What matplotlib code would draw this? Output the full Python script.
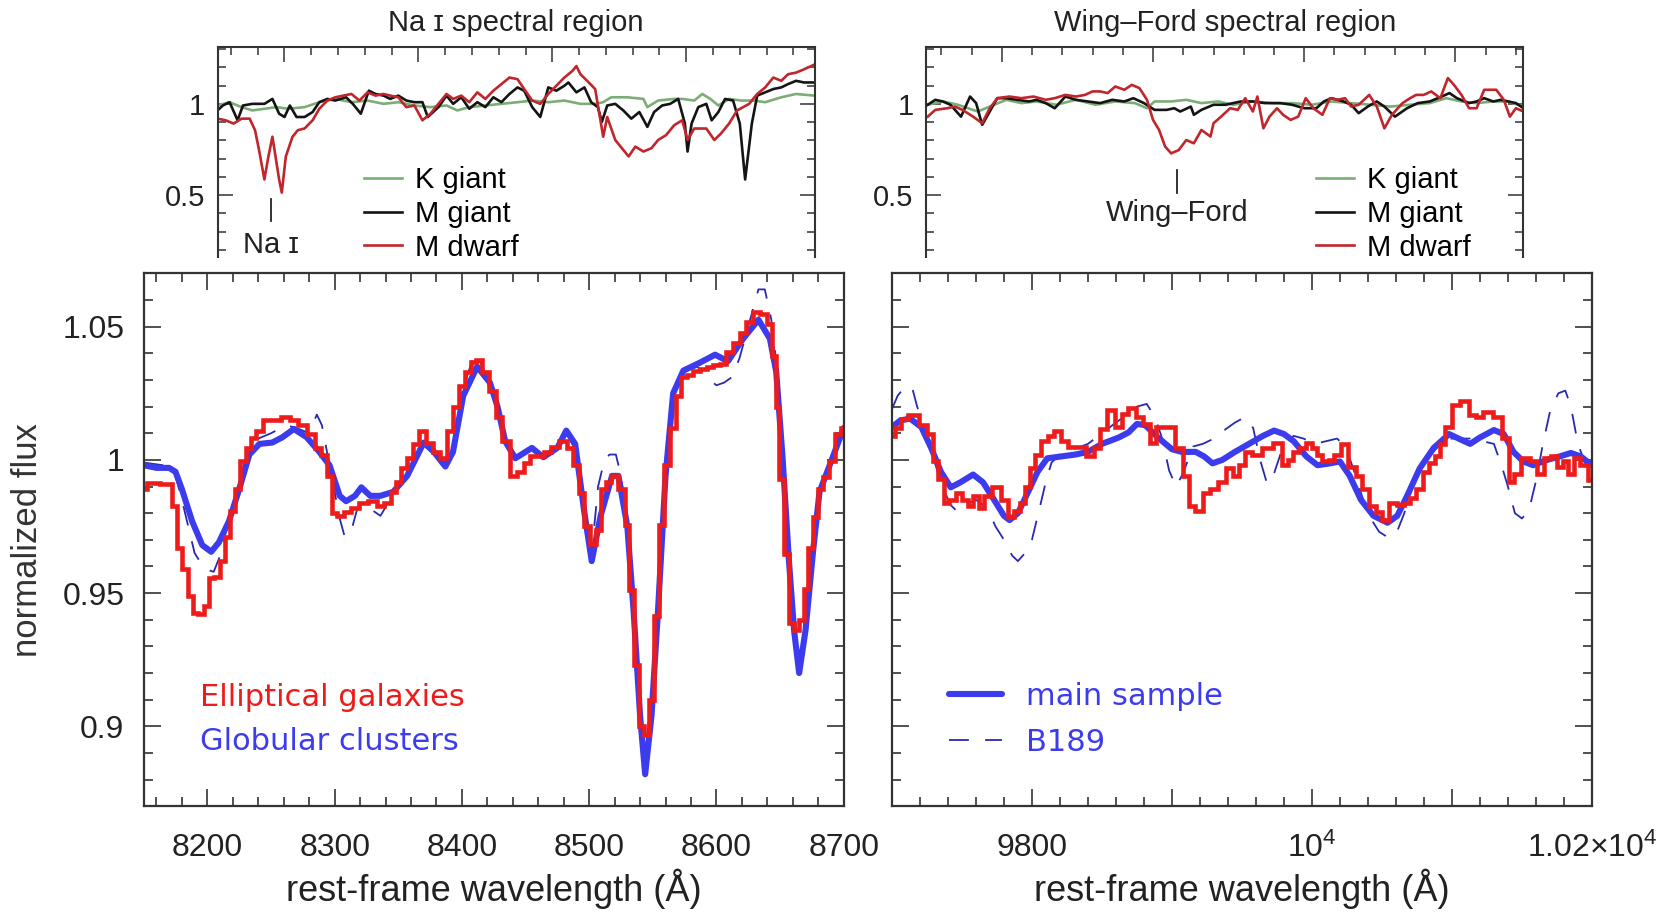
import matplotlib
matplotlib.use("Agg")
import matplotlib.pyplot as plt
from matplotlib.ticker import MultipleLocator, FixedLocator, FixedFormatter

plt.rcParams['font.family'] = ['Liberation Sans', 'DejaVu Sans']
plt.rcParams['mathtext.fontset'] = 'custom'
plt.rcParams['mathtext.rm'] = 'Liberation Sans'

# ---------------- Na I / Ca triplet region (8150-8700 A) ----------------
# (wavelength, normalized flux)
na_gc = [(8150, 0.998), (8160, 0.997), (8170, 0.997), (8175, 0.9955), (8180, 0.989), (8188, 0.977),
         (8196, 0.968), (8203, 0.9655), (8209, 0.969), (8217, 0.977), (8225, 0.989), (8233, 1.002),
         (8241, 1.006), (8251, 1.0065), (8259, 1.0085), (8268, 1.0116), (8278, 1.0085), (8288, 1.003),
         (8296, 0.998), (8304, 0.9865), (8309, 0.9845), (8316, 0.9865), (8321, 0.9897), (8328, 0.9865),
         (8336, 0.9865), (8346, 0.988), (8357, 0.994), (8370, 1.0065), (8378, 1.003), (8387, 0.9975),
         (8393, 1.003), (8401, 1.024), (8412, 1.035), (8422, 1.029), (8428, 1.020), (8434, 1.007),
         (8442, 1.0006), (8455, 1.0045), (8464, 1.001), (8475, 1.0045), (8482, 1.011), (8489, 1.006),
         (8496, 0.981), (8502, 0.962), (8509, 0.979), (8518, 0.994), (8523, 0.994), (8530, 0.975),
         (8535, 0.9426), (8540, 0.904), (8544, 0.882), (8549, 0.904), (8554, 0.9426), (8560, 0.994),
         (8566, 1.025), (8574, 1.0335), (8587, 1.0365), (8599, 1.0395), (8609, 1.037), (8621, 1.0455),
         (8633, 1.0526), (8642, 1.0455), (8647, 1.033), (8652, 1.0006), (8657, 0.962), (8661, 0.936),
         (8665, 0.920), (8670, 0.936), (8676, 0.966), (8681, 0.988), (8689, 0.998), (8700, 1.012)]

na_ell = [(8150, 0.989), (8155, 0.9915), (8160, 0.9915), (8165, 0.991), (8170, 0.991), (8175, 0.9826),
          (8178, 0.967), (8182, 0.959), (8187, 0.949), (8191, 0.9426), (8195, 0.942), (8199, 0.945),
          (8203, 0.9555), (8208, 0.956), (8212, 0.962), (8216, 0.971), (8220, 0.981), (8224, 0.989),
          (8228, 0.9994), (8232, 1.0045), (8236, 1.0084), (8241, 1.011), (8247, 1.0148), (8254, 1.0148),
          (8262, 1.016), (8268, 1.0148), (8275, 1.013), (8282, 1.0097), (8287, 1.0045), (8292, 1.002),
          (8296, 0.994), (8300, 0.980), (8304, 0.979), (8310, 0.9806), (8316, 0.982), (8322, 0.984),
          (8330, 0.9845), (8336, 0.9826), (8342, 0.984), (8346, 0.988), (8350, 0.9916), (8354, 0.9968),
          (8359, 1.0006), (8364, 1.006), (8368, 1.011), (8375, 1.0065), (8380, 1.003), (8385, 1.0006),
          (8391, 1.011), (8395, 1.020), (8400, 1.0277), (8405, 1.033), (8409, 1.0368), (8413, 1.0374),
          (8418, 1.033), (8424, 1.026), (8429, 1.016), (8434, 1.007), (8441, 0.994), (8446, 0.9955),
          (8451, 0.9987), (8456, 1.0013), (8462, 1.0013), (8467, 1.003), (8473, 1.005), (8480, 1.007),
          (8485, 1.0045), (8490, 0.998), (8494, 0.9877), (8498, 0.975), (8503, 0.9684), (8507, 0.9735),
          (8511, 0.989), (8515, 0.9916), (8520, 0.994), (8526, 0.989), (8530, 0.9755), (8533, 0.951),
          (8537, 0.923), (8541, 0.900), (8545, 0.8968), (8549, 0.910), (8553, 0.9413), (8557, 0.9755),
          (8561, 0.998), (8566, 1.012), (8570, 1.024), (8574, 1.031), (8579, 1.032), (8584, 1.0335),
          (8590, 1.034), (8595, 1.0348), (8600, 1.0355), (8605, 1.036), (8610, 1.0406), (8616, 1.044),
          (8621, 1.0477), (8626, 1.0516), (8631, 1.0555), (8637, 1.0548), (8642, 1.051), (8646, 1.039),
          (8648, 1.020), (8651, 0.993), (8655, 0.9645), (8659, 0.9387), (8663, 0.936), (8667, 0.940),
          (8670, 0.9516), (8674, 0.967), (8678, 0.9787), (8682, 0.989), (8686, 0.9935), (8691, 0.9994),
          (8695, 1.0097), (8700, 1.012)]

na_b189 = [(8150, 0.999), (8165, 0.998), (8170, 0.999), (8175, 0.994), (8180, 0.985), (8185, 0.975),
           (8190, 0.965), (8198, 0.959), (8205, 0.958), (8210, 0.964), (8215, 0.974), (8222, 0.987),
           (8230, 1.000), (8240, 1.008), (8250, 1.010), (8262, 1.013), (8270, 1.012), (8280, 1.010),
           (8286, 1.017), (8290, 1.013), (8294, 1.003), (8298, 0.993), (8304, 0.978), (8308, 0.971),
           (8314, 0.975), (8318, 0.982), (8325, 0.9826), (8336, 0.979), (8346, 0.987), (8357, 0.994),
           (8370, 1.006), (8378, 1.003), (8387, 0.997), (8393, 1.004), (8401, 1.027), (8410, 1.040),
           (8415, 1.036), (8422, 1.029), (8428, 1.020), (8434, 1.007), (8442, 1.000), (8455, 1.004),
           (8464, 1.001), (8475, 1.004), (8482, 1.010), (8489, 1.004), (8496, 0.980), (8502, 0.965),
           (8507, 0.990), (8512, 1.000), (8516, 1.002), (8521, 1.002), (8525, 0.994), (8530, 0.975),
           (8535, 0.942), (8540, 0.905), (8544, 0.885), (8549, 0.905), (8554, 0.942), (8560, 0.994),
           (8566, 1.025), (8574, 1.033), (8585, 1.035), (8592, 1.031), (8600, 1.028), (8606, 1.029),
           (8612, 1.031), (8618, 1.038), (8625, 1.050), (8633, 1.064), (8638, 1.064), (8643, 1.053),
           (8648, 1.033), (8652, 1.000), (8657, 0.962), (8661, 0.936), (8665, 0.921), (8670, 0.936),
           (8676, 0.966), (8681, 0.988), (8689, 0.998), (8700, 1.012)]

# ---------------- Wing-Ford region (9700-10200 A) ----------------
wf_gc = [(9700, 1.0123), (9706, 1.0148), (9713, 1.0155), (9721, 1.0123), (9728, 1.0045), (9735, 0.9955),
         (9742, 0.9897), (9749, 0.9916), (9758, 0.9945), (9765, 0.9916), (9773, 0.985), (9780, 0.979),
         (9784, 0.9774), (9790, 0.980), (9797, 0.9877), (9804, 0.9955), (9811, 1.0006), (9821, 1.0013),
         (9831, 1.002), (9840, 1.003), (9850, 1.006), (9862, 1.0084), (9869, 1.0103), (9875, 1.0135),
         (9881, 1.013), (9890, 1.0084), (9900, 1.004), (9907, 1.003), (9917, 1.003), (9923, 1.0013),
         (9929, 0.9987), (9936, 1.000), (9945, 1.003), (9955, 1.006), (9965, 1.009), (9973, 1.011),
         (9980, 1.0097), (9987, 1.007), (9996, 1.0013), (10004, 0.998), (10013, 0.9987), (10020, 0.9994),
         (10027, 0.994), (10035, 0.985), (10044, 0.979), (10054, 0.9764), (10061, 0.979), (10068, 0.9865),
         (10077, 0.9968), (10087, 1.0045), (10098, 1.0097), (10106, 1.0077), (10113, 1.006), (10120, 1.0084),
         (10130, 1.0112), (10137, 1.0097), (10144, 1.003), (10151, 0.9994), (10158, 0.998), (10168, 1.000),
         (10177, 1.0013), (10185, 1.0026), (10192, 1.0013), (10200, 0.998)]

wf_ell = [(9700, 1.009), (9705, 1.012), (9708, 1.0155), (9715, 1.0168), (9723, 1.013), (9727, 1.0097),
          (9731, 0.9994), (9735, 0.993), (9739, 0.984), (9743, 0.985), (9748, 0.9877), (9752, 0.985),
          (9756, 0.9826), (9760, 0.9865), (9764, 0.982), (9768, 0.9865), (9775, 0.9897), (9781, 0.985),
          (9785, 0.9787), (9790, 0.981), (9793, 0.984), (9797, 0.990), (9800, 0.9968), (9804, 1.002),
          (9809, 1.007), (9814, 1.009), (9818, 1.011), (9823, 1.007), (9828, 1.005), (9835, 1.005),
          (9842, 1.0013), (9846, 1.0045), (9851, 1.0116), (9856, 1.0187), (9862, 1.0123), (9866, 1.0174),
          (9871, 1.0194), (9877, 1.016), (9882, 1.0135), (9886, 1.0065), (9891, 1.0123), (9899, 1.0123),
          (9906, 1.0045), (9910, 0.994), (9914, 0.9826), (9919, 0.981), (9925, 0.9877), (9930, 0.989),
          (9936, 0.9916), (9941, 0.9968), (9946, 0.994), (9950, 0.998), (9955, 1.003), (9960, 1.002),
          (9968, 1.0045), (9976, 1.0065), (9981, 0.998), (9985, 1.000), (9988, 1.003), (9993, 1.0045),
          (9998, 1.0065), (10002, 1.0045), (10005, 1.002), (10010, 0.9994), (10014, 1.000), (10018, 1.002),
          (10023, 1.006), (10029, 0.9974), (10034, 0.994), (10038, 0.989), (10044, 0.9826), (10048, 0.9806),
          (10052, 0.9774), (10058, 0.984), (10063, 0.983), (10068, 0.984), (10072, 0.9858), (10077, 0.989),
          (10081, 0.9955), (10086, 0.9987), (10090, 1.0013), (10093, 1.006), (10097, 1.0123), (10103, 1.0206),
          (10109, 1.022), (10115, 1.0168), (10119, 1.016), (10125, 1.018), (10133, 1.016), (10139, 1.0084),
          (10142, 0.9916), (10146, 0.9948), (10152, 1.0006), (10159, 0.9994), (10163, 0.9948), (10168, 1.0006),
          (10173, 1.0013), (10177, 0.9974), (10181, 0.9994), (10185, 0.9948), (10189, 1.0006), (10194, 0.998),
          (10200, 0.9923)]

wf_b189 = [(9700, 1.019), (9704, 1.024), (9710, 1.028), (9715, 1.026), (9718, 1.020), (9722, 1.014),
           (9728, 1.004), (9735, 0.991), (9742, 0.983), (9746, 0.981), (9752, 0.983), (9760, 0.985),
           (9768, 0.982), (9774, 0.975), (9780, 0.970), (9786, 0.964), (9790, 0.962), (9795, 0.965),
           (9800, 0.970), (9806, 0.983), (9810, 0.992), (9814, 0.999), (9820, 1.002), (9830, 1.004),
           (9840, 1.006), (9850, 1.010), (9860, 1.014), (9868, 1.017), (9875, 1.020), (9882, 1.021),
           (9888, 1.016), (9893, 1.008), (9898, 0.996), (9903, 0.990), (9908, 0.995), (9915, 1.005),
           (9922, 1.006), (9930, 1.008), (9937, 1.011), (9945, 1.014), (9952, 1.016), (9958, 1.012),
           (9963, 1.000), (9968, 0.991), (9973, 0.995), (9980, 1.006), (9987, 1.009), (9994, 1.008),
           (10002, 1.006), (10010, 1.007), (10018, 1.008), (10024, 1.005), (10030, 0.996), (10036, 0.986),
           (10042, 0.978), (10048, 0.973), (10054, 0.971), (10060, 0.972), (10066, 0.980), (10072, 0.990),
           (10080, 0.999), (10090, 1.005), (10098, 1.008), (10106, 1.008), (10113, 1.008), (10122, 1.007),
           (10130, 1.006), (10136, 0.997), (10140, 0.990), (10145, 0.980), (10150, 0.978), (10155, 0.981),
           (10160, 0.992), (10165, 1.006), (10170, 1.018), (10176, 1.025), (10181, 1.026), (10185, 1.020),
           (10190, 1.006), (10195, 0.999), (10200, 0.996)]

# ---------------- stellar template spectra for the small panels ----------------
na_kgiant = [(8150, 0.991), (8159, 1.009), (8168, 0.982), (8176, 0.964), (8185, 0.973), (8194, 0.982),
             (8203, 0.973), (8215, 0.982), (8226, 1.009), (8238, 1.027), (8250, 1.009), (8262, 1.018),
             (8274, 1.0), (8285, 1.009), (8297, 0.991), (8309, 0.982), (8321, 0.991), (8329, 0.964),
             (8338, 0.982), (8350, 0.991), (8362, 1.0), (8374, 1.009), (8385, 1.018), (8397, 1.009),
             (8409, 1.018), (8421, 1.0), (8432, 1.0), (8438, 1.009), (8444, 1.036), (8456, 1.036),
             (8468, 1.027), (8471, 0.982), (8479, 1.018), (8491, 1.027), (8497, 1.027), (8506, 1.018),
             (8512, 1.054), (8518, 1.027), (8524, 0.991), (8532, 1.027), (8541, 1.018), (8550, 1.018),
             (8559, 1.009), (8571, 1.036), (8582, 1.054), (8596, 1.045)]
na_mgiant = [(8150, 0.964), (8154, 0.991), (8159, 1.009), (8165, 0.910), (8169, 0.991), (8176, 1.0),
             (8185, 1.0), (8191, 1.027), (8196, 0.946), (8200, 0.928), (8204, 0.991), (8209, 0.928),
             (8215, 0.928), (8221, 0.955), (8226, 1.009), (8232, 1.027), (8238, 1.018), (8246, 1.036),
             (8251, 1.0), (8257, 0.946), (8263, 1.072), (8268, 1.054), (8274, 1.045), (8279, 1.027),
             (8285, 1.045), (8291, 1.018), (8297, 1.009), (8303, 1.009), (8307, 0.928), (8315, 0.982),
             (8321, 1.045), (8326, 1.0), (8332, 1.036), (8338, 0.973), (8344, 1.009), (8350, 0.982),
             (8356, 1.036), (8362, 1.009), (8368, 1.054), (8374, 1.090), (8379, 1.072), (8385, 0.982),
             (8391, 0.928), (8397, 1.090), (8403, 1.072), (8409, 1.099), (8412, 1.117), (8418, 1.063),
             (8424, 1.090), (8429, 1.009), (8434, 0.982), (8437, 0.901), (8441, 0.991), (8447, 1.0),
             (8453, 0.964), (8459, 0.919), (8465, 0.955), (8471, 0.874), (8476, 0.955), (8482, 0.991),
             (8488, 1.0), (8494, 1.027), (8499, 0.892), (8501, 0.739), (8504, 0.892), (8509, 0.982),
             (8515, 1.0), (8519, 0.910), (8524, 0.955), (8529, 1.027), (8535, 1.018), (8540, 0.892),
             (8544, 0.586), (8549, 0.892), (8553, 1.045), (8559, 1.063), (8565, 1.081), (8571, 1.090),
             (8576, 1.108), (8582, 1.126), (8588, 1.117), (8596, 1.117)]
na_mdwarf = [(8150, 0.919), (8156, 0.910), (8162, 0.892), (8168, 0.919), (8174, 0.919), (8178, 0.856),
             (8181, 0.748), (8185, 0.586), (8188, 0.712), (8191, 0.820), (8196, 0.586), (8198, 0.514),
             (8201, 0.712), (8206, 0.820), (8210, 0.856), (8215, 0.865), (8221, 0.910), (8226, 0.973),
             (8232, 1.018), (8238, 1.036), (8244, 1.045), (8250, 1.054), (8256, 1.018), (8262, 1.063),
             (8268, 1.045), (8274, 1.054), (8279, 1.045), (8285, 1.036), (8291, 0.982), (8297, 0.991),
             (8303, 0.910), (8309, 0.946), (8315, 1.0), (8321, 1.054), (8326, 1.027), (8332, 1.045),
             (8338, 1.009), (8344, 1.063), (8350, 1.027), (8356, 1.072), (8362, 1.108), (8368, 1.144),
             (8374, 1.135), (8379, 1.081), (8385, 1.018), (8391, 1.0), (8397, 1.054), (8403, 1.099),
             (8409, 1.144), (8415, 1.180), (8418, 1.207), (8421, 1.162), (8426, 1.126), (8432, 1.081),
             (8438, 0.820), (8441, 0.928), (8447, 0.802), (8453, 0.748), (8457, 0.712), (8462, 0.766),
             (8468, 0.739), (8474, 0.757), (8479, 0.802), (8485, 0.829), (8491, 0.883), (8497, 0.910),
             (8501, 0.802), (8506, 0.865), (8515, 0.865), (8521, 0.802), (8526, 0.838), (8532, 0.892),
             (8538, 0.964), (8547, 1.0), (8553, 1.054), (8559, 1.090), (8565, 1.144), (8571, 1.126),
             (8576, 1.162), (8582, 1.171), (8588, 1.189), (8596, 1.216)]

wf_kgiant = [(9751, 0.995), (9761, 1.013), (9771, 0.995), (9784, 0.958), (9792, 0.985), (9803, 1.022),
             (9813, 1.004), (9823, 1.013), (9836, 0.995), (9849, 1.022), (9862, 0.995), (9875, 1.013),
             (9888, 1.004), (9896, 0.976), (9901, 1.013), (9912, 1.013), (9922, 1.022), (9932, 1.004),
             (9943, 1.013), (9953, 0.995), (9966, 1.013), (9979, 1.004), (9992, 1.004), (10005, 0.995),
             (10018, 1.013), (10031, 1.004), (10044, 0.995), (10057, 0.985), (10070, 0.995), (10083, 1.004),
             (10094, 1.031), (10104, 1.013), (10114, 1.004), (10125, 1.013), (10135, 1.013), (10145, 0.985)]
wf_mgiant = [(9751, 0.995), (9756, 1.022), (9761, 1.013), (9766, 0.995), (9773, 0.930), (9779, 1.040),
             (9783, 1.004), (9787, 0.885), (9792, 0.958), (9797, 1.031), (9803, 1.031), (9810, 1.022),
             (9818, 1.013), (9823, 1.022), (9829, 1.004), (9835, 0.976), (9842, 1.040), (9849, 1.022),
             (9857, 1.013), (9865, 1.004), (9873, 1.022), (9881, 1.013), (9887, 1.031), (9894, 1.004),
             (9901, 0.967), (9909, 0.967), (9914, 0.976), (9918, 0.958), (9925, 0.985), (9927, 0.940),
             (9932, 0.967), (9940, 0.995), (9948, 0.995), (9958, 1.013), (9966, 1.013), (9974, 1.004),
             (9984, 1.004), (9992, 0.995), (10000, 0.976), (10008, 0.976), (10013, 1.013), (10018, 1.031),
             (10026, 1.013), (10031, 0.995), (10036, 0.949), (10042, 0.985), (10048, 1.013), (10053, 0.985),
             (10060, 0.930), (10068, 0.976), (10075, 1.004), (10083, 1.013), (10091, 1.040), (10096, 1.059),
             (10101, 1.031), (10109, 1.004), (10114, 1.013), (10119, 1.031), (10125, 1.013), (10130, 1.022),
             (10135, 1.013), (10140, 1.004), (10145, 0.976)]
wf_mdwarf = [(9751, 0.930), (9756, 0.967), (9764, 0.976), (9769, 0.985), (9774, 0.967), (9781, 0.930),
             (9787, 0.894), (9792, 0.976), (9797, 1.031), (9805, 1.040), (9813, 1.031), (9821, 1.040),
             (9829, 1.022), (9835, 1.031), (9842, 1.049), (9849, 1.040), (9855, 1.049), (9860, 1.068),
             (9865, 1.068), (9870, 1.059), (9875, 1.095), (9881, 1.077), (9886, 1.104), (9891, 1.086),
             (9896, 1.022), (9900, 0.912), (9904, 0.857), (9908, 0.766), (9912, 0.729), (9917, 0.747),
             (9922, 0.802), (9927, 0.784), (9932, 0.857), (9938, 0.821), (9940, 0.894), (9945, 0.930),
             (9951, 0.976), (9956, 0.967), (9961, 1.031), (9966, 0.958), (9969, 1.040), (9973, 0.866),
             (9977, 0.930), (9982, 0.976), (9986, 0.940), (9991, 0.912), (9996, 0.930), (10001, 1.031),
             (10006, 0.976), (10012, 0.940), (10017, 1.031), (10022, 1.022), (10027, 1.031), (10031, 0.985),
             (10036, 0.995), (10043, 1.049), (10048, 0.985), (10053, 0.866), (10058, 0.940), (10065, 1.004),
             (10070, 1.031), (10074, 1.049), (10079, 1.049), (10084, 1.068), (10090, 1.031), (10095, 1.141),
             (10099, 1.104), (10104, 1.049), (10109, 0.976), (10114, 0.976), (10119, 1.077), (10127, 1.077),
             (10132, 1.022), (10136, 0.930), (10140, 0.976), (10145, 0.958)]

na_line = 8190    # Na I doublet
wf_band = 9916    # Wing-Ford band head

RED = '#ee1b1b'
BLUE = '#3c3cee'
DASH = '#2a2ab0'
KG = '#7cad77'
MG = '#141414'
MD = '#c0262c'
FRAME = '#333333'

fig = plt.figure(figsize=(16.81, 9.15), dpi=100)
ax_na = fig.add_axes([0.0855, 0.1189, 0.4164, 0.5823])
ax_wf = fig.add_axes([0.5306, 0.1189, 0.4164, 0.5823])
ins_na = fig.add_axes([0.1294, 0.7188, 0.3553, 0.2296])
ins_wf = fig.add_axes([0.5510, 0.7188, 0.3553, 0.2296])


def draw_main(ax, b189, gc, ell):
    h_b, = ax.plot(*zip(*b189), color=DASH, lw=1.3, ls=(0, (11, 9)))
    h_g, = ax.plot(*zip(*gc), color=BLUE, lw=4.4, solid_joinstyle='round', solid_capstyle='round')
    ax.plot(*zip(*ell), color=RED, lw=3.3, drawstyle='steps-mid', solid_joinstyle='miter')
    ax.set_ylim(0.87, 1.07)
    ax.yaxis.set_major_locator(FixedLocator([0.9, 0.95, 1.0, 1.05]))
    ax.yaxis.set_minor_locator(MultipleLocator(0.01))
    ax.xaxis.set_minor_locator(MultipleLocator(20))
    ax.tick_params(which='both', direction='in', top=True, right=True, width=1.2, color=FRAME,
                   labelsize=23, labelcolor='#222222')
    ax.tick_params(which='major', length=12)
    ax.tick_params(which='minor', length=6.5)
    ax.tick_params(axis='x', pad=19)
    ax.tick_params(axis='y', pad=14)
    for s in ax.spines.values():
        s.set_linewidth(1.6)
        s.set_color(FRAME)
    ax.set_xlabel('rest-frame wavelength (Å)', fontsize=26, color='#222222')
    ax.xaxis.set_label_coords(0.5, -0.118)
    return h_g, h_b


draw_main(ax_na, na_b189, na_gc, na_ell)
ax_na.set_xlim(8150, 8700)
ax_na.xaxis.set_major_locator(MultipleLocator(100))
ax_na.yaxis.set_major_formatter(FixedFormatter(['0.9', '0.95', '1', '1.05']))
ax_na.set_ylabel('normalized flux', fontsize=25, color='#333333')
ax_na.yaxis.set_label_coords(-0.142, 0.5)
ax_na.text(0.081, 0.204, 'Elliptical galaxies', color=RED, fontsize=22, family='DejaVu Sans',
           transform=ax_na.transAxes, va='center')
ax_na.text(0.081, 0.121, 'Globular clusters', color=BLUE, fontsize=22, family='DejaVu Sans',
           transform=ax_na.transAxes, va='center')

h_gc, h_b189 = draw_main(ax_wf, wf_b189, wf_gc, wf_ell)
ax_wf.set_xlim(9700, 10200)
ax_wf.xaxis.set_major_locator(FixedLocator([9800, 9900, 10000, 10100, 10200]))
ax_wf.xaxis.set_major_formatter(FixedFormatter(['9800', '', r'$\mathregular{10^4}$', '',
                                                r'$\mathregular{1.02{\times}10^4}$']))
ax_wf.tick_params(labelleft=False)
ax_wf.legend([h_gc, h_b189], ['main sample', 'B189'], loc='upper left', bbox_to_anchor=(0.081, 0.233),
             frameon=False, prop={'family': 'DejaVu Sans', 'size': 22}, labelcolor=BLUE,
             handlelength=1.75, handletextpad=0.77, labelspacing=0.56, borderpad=0, borderaxespad=0)


def draw_inset(ax, kg, mg, md, title, xlim):
    ax.plot(*zip(*kg), color=KG, lw=1.9, label='K giant')
    ax.plot(*zip(*mg), color=MG, lw=1.9, label='M giant')
    ax.plot(*zip(*md), color=MD, lw=1.9, label='M dwarf')
    ax.set_xlim(*xlim)
    ax.set_ylim(0.16, 1.31)
    ax.xaxis.set_major_locator(MultipleLocator(100))
    ax.xaxis.set_minor_locator(MultipleLocator(20))
    ax.yaxis.set_major_locator(FixedLocator([0.5, 1.0]))
    ax.yaxis.set_major_formatter(FixedFormatter(['0.5', '1']))
    ax.yaxis.set_minor_locator(MultipleLocator(0.1))
    ax.tick_params(which='both', direction='in', top=True, bottom=False, right=True,
                   labelbottom=False, width=1.1, color=FRAME, labelsize=21, labelcolor='#222222')
    ax.tick_params(which='major', length=11)
    ax.tick_params(which='minor', length=6)
    ax.tick_params(axis='y', pad=9)
    ax.spines['bottom'].set_visible(False)
    for k in ('left', 'right', 'top'):
        ax.spines[k].set_linewidth(1.5)
        ax.spines[k].set_color(FRAME)
    ax.set_title(title, fontsize=21, pad=12, color='#222222')
    ax.patch.set_alpha(0)


draw_inset(ins_na, na_kgiant, na_mgiant, na_mdwarf, 'Na ɪ spectral region', (8150, 8596))
ins_na.legend(loc='upper left', bbox_to_anchor=(0.246, 0.435), frameon=False, fontsize=21,
              handlelength=1.28, handletextpad=0.45, labelspacing=0.2, borderpad=0, borderaxespad=0)
ins_na.plot([na_line, na_line], [0.36, 0.48], color='#222222', lw=1.3)
ins_na.text(na_line, 0.23, 'Na ɪ', fontsize=21, ha='center', va='center', color='#222222')

draw_inset(ins_wf, wf_kgiant, wf_mgiant, wf_mdwarf, 'Wing–Ford spectral region', (9750, 10145))
ins_wf.legend(loc='upper left', bbox_to_anchor=(0.653, 0.435), frameon=False, fontsize=21,
              handlelength=1.28, handletextpad=0.45, labelspacing=0.2, borderpad=0, borderaxespad=0)
ins_wf.plot([wf_band, wf_band], [0.51, 0.64], color='#222222', lw=1.3)
ins_wf.text(wf_band, 0.40, 'Wing–Ford', fontsize=21, ha='center', va='center', color='#222222')

fig.savefig('out.png', dpi=100)
